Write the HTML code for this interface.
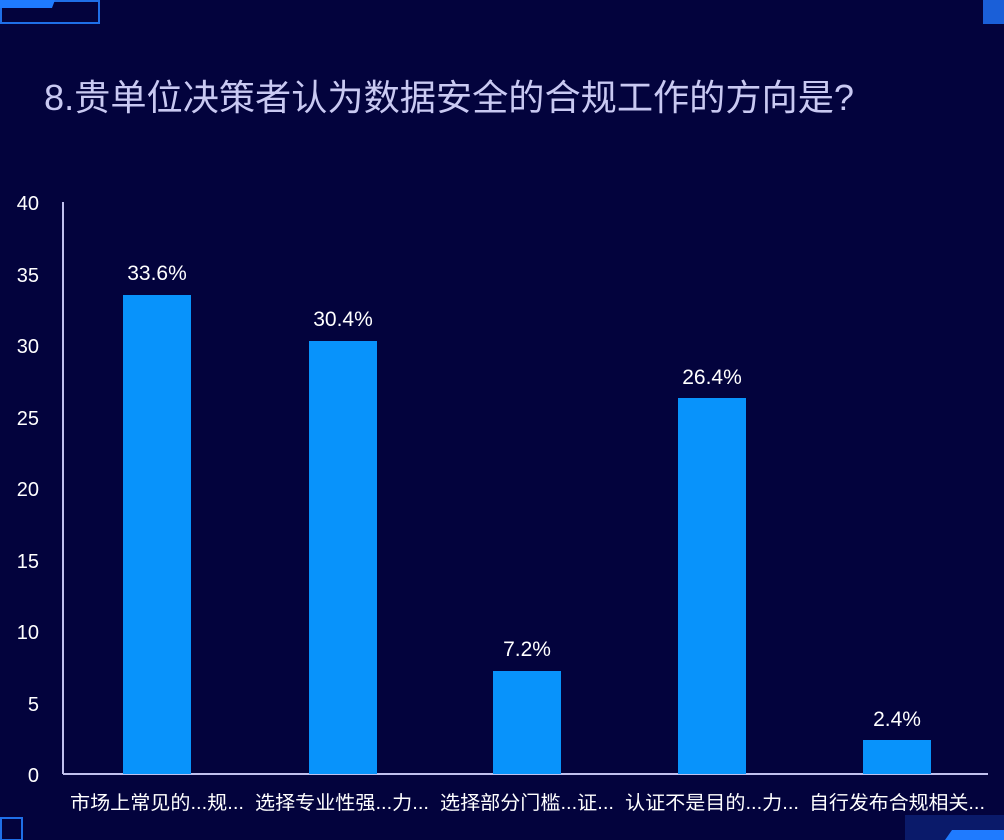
<!DOCTYPE html>
<html><head><meta charset="utf-8"><style>
html,body{margin:0;padding:0;background:#03033d;}
svg{display:block}
text{font-family:"Liberation Sans","Noto Sans CJK SC",sans-serif;}
</style></head><body>
<svg width="1004" height="840" viewBox="0 0 1004 840" xmlns="http://www.w3.org/2000/svg">
<rect width="1004" height="840" fill="#03033d"/>
<rect x="1" y="1" width="98" height="22" fill="none" stroke="#1f6fe8" stroke-width="2"/>
<polygon points="0,0 55,0 52,8 0,8" fill="#1f7bff"/>
<rect x="983" y="0" width="21" height="24" fill="#1a5fd8"/>
<rect x="1" y="818" width="21" height="22" fill="none" stroke="#1f6fe8" stroke-width="2"/>
<rect x="905" y="815" width="99" height="25" fill="#0a1a6a"/>
<polygon points="945,840 952,830 1004,830 1004,840" fill="#1f7bff"/>
<text x="44" y="110" font-size="36" fill="#c9c9f2" textLength="810" lengthAdjust="spacingAndGlyphs">8.贵单位决策者认为数据安全的合规工作的方向是?</text>
<line x1="63" y1="202" x2="63" y2="774" stroke="#c0c0ee" stroke-width="2"/>
<line x1="63" y1="774" x2="988" y2="774" stroke="#c0c0ee" stroke-width="2"/>
<g font-size="20" fill="#ffffff" text-anchor="end">
<text x="39" y="210">40</text>
<text x="39" y="282">35</text>
<text x="39" y="353">30</text>
<text x="39" y="425">25</text>
<text x="39" y="496">20</text>
<text x="39" y="568">15</text>
<text x="39" y="639">10</text>
<text x="39" y="711">5</text>
<text x="39" y="782">0</text>
</g>
<g fill="#0893fb">
<rect x="123" y="295" width="68" height="479"/>
<rect x="309" y="341" width="68" height="433"/>
<rect x="493" y="671" width="68" height="103"/>
<rect x="678" y="398" width="68" height="376"/>
<rect x="863" y="740" width="68" height="34"/>
</g>
<g font-size="21" fill="#ffffff" text-anchor="middle">
<text x="157" y="280">33.6%</text>
<text x="343" y="326">30.4%</text>
<text x="527" y="656">7.2%</text>
<text x="712" y="384">26.4%</text>
<text x="897" y="726">2.4%</text>
</g>
<g font-size="19" fill="#ffffff" text-anchor="middle">
<text x="157" y="809" textLength="174" lengthAdjust="spacingAndGlyphs">市场上常见的...规...</text>
<text x="342" y="809" textLength="174" lengthAdjust="spacingAndGlyphs">选择专业性强...力...</text>
<text x="527" y="809" textLength="174" lengthAdjust="spacingAndGlyphs">选择部分门槛...证...</text>
<text x="712" y="809" textLength="174" lengthAdjust="spacingAndGlyphs">认证不是目的...力...</text>
<text x="897" y="809" textLength="176" lengthAdjust="spacingAndGlyphs">自行发布合规相关...</text>
</g>
</svg>
</body></html>
